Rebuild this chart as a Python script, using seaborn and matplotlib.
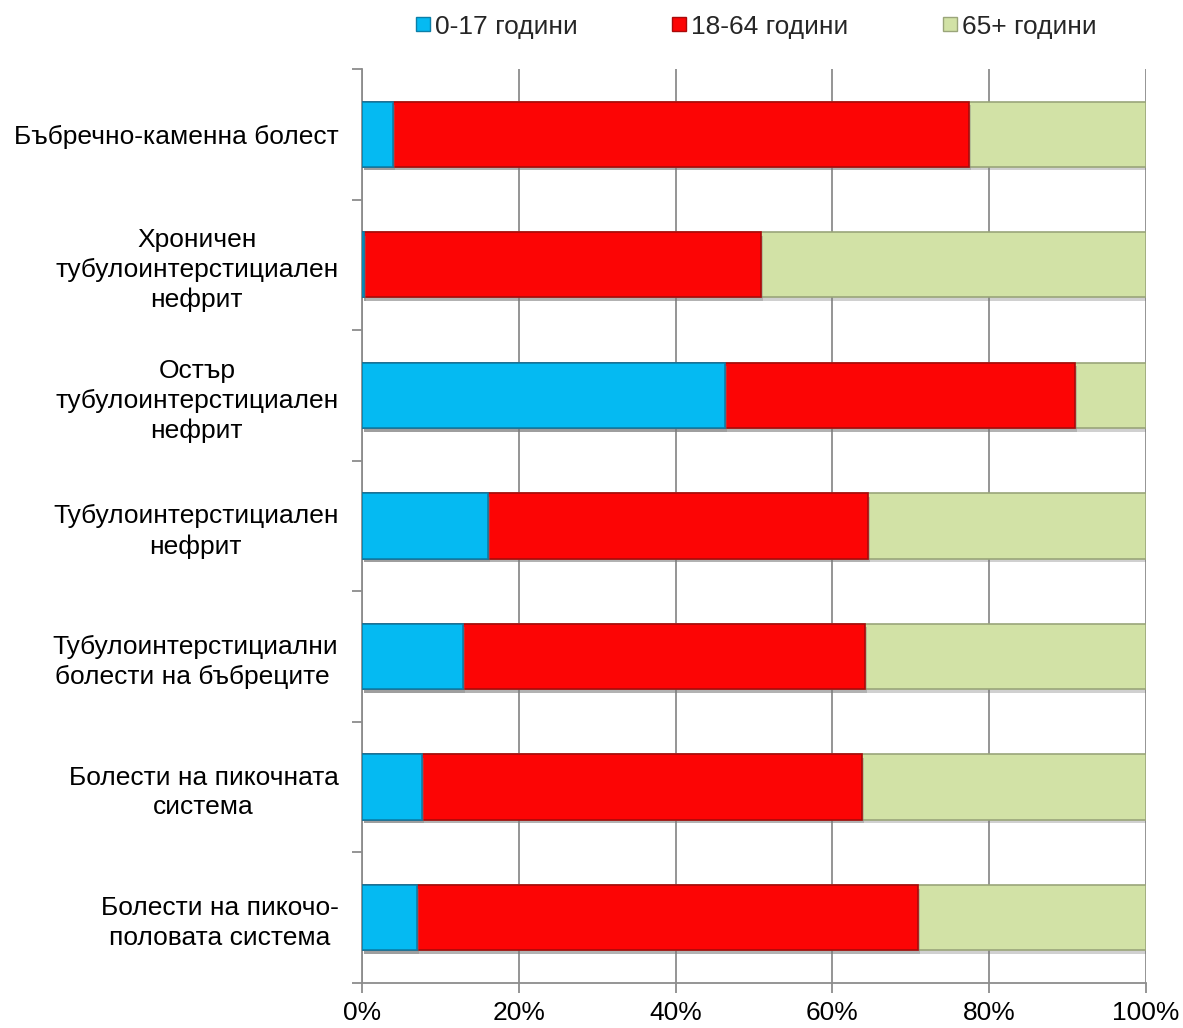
import matplotlib
matplotlib.use("Agg")
import matplotlib.pyplot as plt
import matplotlib.patheffects as pe
import seaborn as sns
import numpy as np
import pandas as pd
from matplotlib.lines import Line2D
from matplotlib.ticker import FixedLocator, PercentFormatter

categories = [
    "Бъбречно-каменна болест",
    "Хроничен\nтубулоинтерстициален\nнефрит",
    "Остър\nтубулоинтерстициален\nнефрит",
    "Тубулоинтерстициален\nнефрит",
    "Тубулоинтерстициални\nболести на бъбреците ",
    "Болести на пикочната\nсистема",
    "Болести на пикочо-\nполовата система",
]
series_names = ["0-17 години", "18-64 години", "65+ години"]
age_0_17 = [3.9, 0.3, 46.3, 16.1, 12.9, 7.7, 7.0]
age_18_64 = [73.5, 50.6, 44.6, 48.4, 51.2, 56.1, 63.9]
age_65 = [22.6, 49.1, 9.1, 35.5, 35.9, 36.2, 29.1]
xticks = [0, 20, 40, 60, 80, 100]

colors = ["#05BAF2", "#FC0505", "#D2E2A6"]
edges = ["#0B7FA8", "#A80A0A", "#9AA57A"]

sns.set_theme(style="white")
plt.rcParams['font.family'] = ['Liberation Sans', 'DejaVu Sans']
FS = 19

df = pd.DataFrame({"cat": categories, "a": age_0_17, "b": age_18_64, "c": age_65})
df["cum1"] = df["a"]
df["cum2"] = df["a"] + df["b"]
df["cum3"] = df["a"] + df["b"] + df["c"]

fig = plt.figure(figsize=(11.83, 10.28), dpi=100)
ax = fig.add_axes([0.306, 0.0438, 0.6627, 0.8891])

for col, c, e in zip(["cum3", "cum2", "cum1"], colors[::-1], edges[::-1]):
    sns.barplot(data=df, x=col, y="cat", order=categories, color=c, orient="h",
                width=0.5, edgecolor=e, linewidth=1.2, saturation=1, ax=ax, zorder=3)

shadow = [pe.SimplePatchShadow(offset=(1.5, -2.5), shadow_rgbFace="#7a7a7a", alpha=0.35), pe.Normal()]
for p in ax.patches:
    p.set_path_effects(shadow)

ax.set_xlim(0, 100)
ax.set_ylim(6.5, -0.5)
ax.set_xlabel("")
ax.set_ylabel("")
ax.xaxis.set_major_locator(FixedLocator(xticks))
ax.xaxis.set_major_formatter(PercentFormatter(decimals=0))
ax.grid(axis="x", color="#8C8C8C", linewidth=1.3, zorder=0)
ax.grid(axis="y", visible=False)
for s in ["top", "right"]:
    ax.spines[s].set_visible(False)
for s in ["left", "bottom"]:
    ax.spines[s].set_color("#8C8C8C")
    ax.spines[s].set_linewidth(1.3)

ax.set_yticks(np.arange(len(categories)))
ax.set_yticklabels(categories, fontsize=FS, multialignment="center", linespacing=1.3)
ax.set_yticks(np.arange(-0.5, len(categories), 1.0), minor=True)
ax.tick_params(axis="y", which="major", length=0, pad=17)
ax.tick_params(axis="y", which="minor", length=7, width=1.3, color="#8C8C8C", left=True)
ax.tick_params(axis="x", which="major", length=7, width=1.3, color="#8C8C8C",
               bottom=True, labelsize=FS, pad=6)
for lbl in ax.get_xticklabels() + ax.get_yticklabels():
    lbl.set_color("black")

handles = [Line2D([0], [0], marker="s", linestyle="", markersize=9.5,
                  markerfacecolor=c, markeredgecolor=e) for c, e in zip(colors, edges)]
fig.legend(handles, series_names, loc="center", bbox_to_anchor=(0.639, 0.974), ncol=3,
           frameon=False, fontsize=FS, handlelength=0.6, handletextpad=0.15,
           columnspacing=3.55)

fig.savefig("out.png", dpi=100)
